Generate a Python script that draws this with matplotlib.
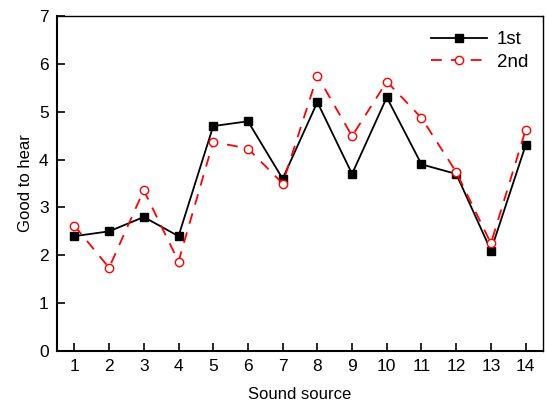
import matplotlib.pyplot as plt

plt.rcParams['font.family'] = ['Liberation Sans', 'DejaVu Sans']

# sound sources and ratings
sources = list(range(1, 15))
first = [2.4, 2.5, 2.8, 2.4, 4.7, 4.8, 3.6, 5.2, 3.7, 5.3, 3.9, 3.7, 2.1, 4.3]
second = [2.62, 1.74, 3.36, 1.87, 4.37, 4.23, 3.50, 5.75, 4.49, 5.63, 4.87, 3.74, 2.25, 4.62]

fig = plt.figure(figsize=(5.46, 4.05), dpi=100)
ax = fig.add_axes([0.1044, 0.1333, 0.8901, 0.8272])

ax.plot(sources, first, color='black', lw=1.3, marker='s', ms=6,
        label='1st')
ax.plot(sources, second, color='red', lw=1.3, ls=(0, (6, 5)), marker='o', ms=6,
        mfc='white', mec='red', mew=1.0, label='2nd')

ax.set_xlim(0.5, 14.5)
ax.set_ylim(0, 7)
ax.set_xticks(sources)
ax.set_yticks(range(0, 8))
ax.tick_params(direction='in', length=6, width=1.2, labelsize=12.5, pad=6)
for s in ax.spines.values():
    s.set_linewidth(1.0)
ax.spines['left'].set_linewidth(1.5)
ax.spines['bottom'].set_linewidth(1.5)

ax.set_xlabel('Sound source', fontsize=12, labelpad=9)
ax.set_ylabel('Good to hear', fontsize=12, labelpad=4)

ax.legend(loc='upper right', frameon=False, fontsize=13.5, handlelength=3.0,
          handletextpad=0.5, labelspacing=0.3, borderaxespad=0.4)

fig.savefig('out.png', dpi=100)
